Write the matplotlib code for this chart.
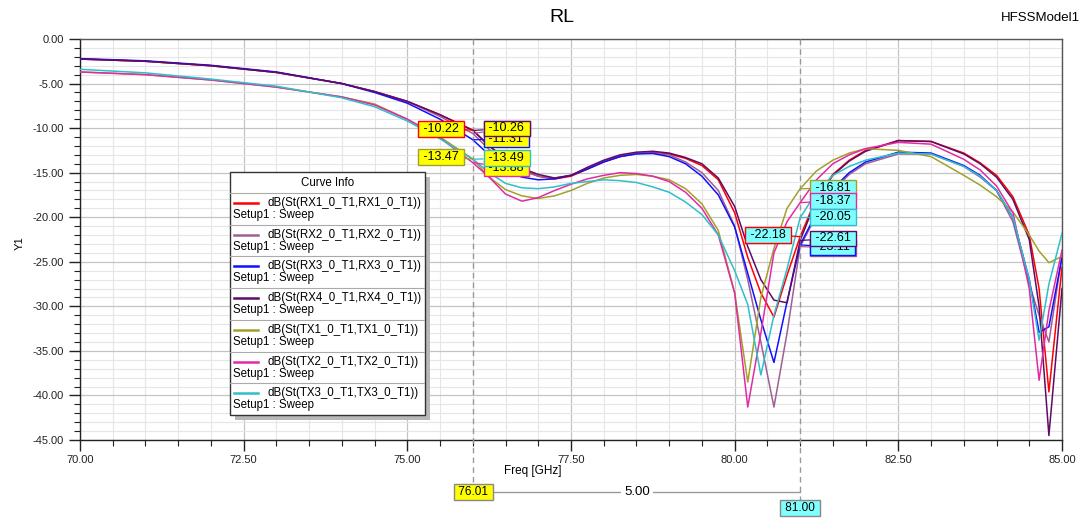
import matplotlib
matplotlib.use("Agg")
import matplotlib.pyplot as plt
import matplotlib.transforms as mtransforms
from matplotlib.ticker import MultipleLocator, FormatStrFormatter
from matplotlib.patches import Rectangle

plt.rcParams['font.family'] = ['Liberation Sans', 'DejaVu Sans']

# ---- data ----
freq = [70, 71, 72, 73, 74, 74.5, 75, 75.5, 76, 76.25, 76.5, 76.75, 77, 77.25, 77.5, 77.75,
        78, 78.25, 78.5, 78.75, 79, 79.25, 79.5, 79.75, 80, 80.2, 80.4, 80.6, 80.8, 81,
        81.25, 81.5, 81.75, 82, 82.5, 83, 83.5, 83.75, 84, 84.25, 84.5, 84.65, 84.8, 85]

rx1 = [-2.25, -2.5, -3.0, -3.75, -5.0, -5.9, -7.0, -8.5, -10.22, -12.0, -13.5, -14.6, -15.4, -15.7, -15.4, -14.6,
       -13.8, -13.2, -12.85, -12.75, -12.9, -13.4, -14.2, -15.8, -19.5, -24.5, -28.5, -31.2, -26.5, -22.18,
       -17.8, -15.2, -13.6, -12.5, -11.4, -11.5, -12.8, -13.9, -15.3, -17.7, -22.0, -28.0, -39.6, -25.6]
rx2 = [-2.25, -2.5, -3.0, -3.75, -5.0, -5.9, -7.0, -8.7, -10.6, -12.4, -13.8, -14.8, -15.4, -15.6, -15.3, -14.5,
       -13.7, -13.1, -12.8, -12.8, -13.0, -13.8, -15.0, -17.0, -21.0, -27.0, -34.0, -41.3, -33.0, -23.3,
       -19.8, -17.0, -15.2, -14.0, -12.9, -12.9, -14.3, -15.5, -17.0, -20.5, -27.5, -31.0, -34.0, -24.3]
rx3 = [-2.2, -2.45, -2.95, -3.7, -5.0, -6.0, -7.2, -9.0, -11.31, -13.0, -14.8, -15.5, -15.8, -15.7, -15.3, -14.6,
       -13.8, -13.2, -12.9, -12.85, -13.2, -14.0, -15.4, -17.5, -21.1, -26.3, -31.5, -36.3, -29.5, -23.11,
       -19.5, -16.8, -15.0, -13.8, -12.7, -12.8, -14.2, -15.3, -17.0, -20.0, -27.0, -32.9, -32.3, -24.5]
rx4 = [-2.25, -2.5, -3.0, -3.75, -5.0, -5.9, -7.0, -8.5, -10.26, -12.0, -13.4, -14.5, -15.2, -15.6, -15.3, -14.4,
       -13.6, -13.0, -12.7, -12.6, -12.8, -13.3, -14.0, -15.6, -18.8, -23.3, -27.0, -29.3, -29.6, -22.61,
       -18.0, -15.3, -13.7, -12.6, -11.4, -11.5, -12.9, -14.0, -15.5, -18.0, -22.5, -30.0, -44.5, -28.0]
tx1 = [-3.7, -4.0, -4.6, -5.4, -6.5, -7.3, -9.0, -11.0, -13.47, -15.5, -16.9, -17.6, -17.9, -17.6, -17.0, -16.2,
       -15.6, -15.3, -15.2, -15.4, -15.8, -16.8, -18.5, -21.5, -28.5, -38.5, -29.0, -23.5, -19.0, -16.81,
       -14.8, -13.6, -12.8, -12.3, -12.5, -13.2, -15.3, -16.4, -17.7, -19.4, -22.0, -23.8, -25.1, -24.4]
tx2 = [-3.7, -4.0, -4.6, -5.4, -6.5, -7.4, -9.0, -11.1, -13.88, -15.5, -17.4, -18.2, -17.8, -17.0, -16.3, -15.7,
       -15.3, -15.0, -15.1, -15.4, -16.0, -17.2, -19.0, -22.0, -28.5, -41.3, -33.0, -24.0, -20.5, -18.37,
       -15.8, -14.0, -13.0, -12.3, -11.6, -11.8, -13.5, -14.7, -16.5, -19.5, -28.0, -38.3, -30.5, -23.7]
tx3 = [-3.4, -3.8, -4.5, -5.3, -6.6, -7.6, -9.2, -11.2, -13.49, -15.0, -16.2, -16.7, -16.8, -16.6, -16.2, -16.0,
       -15.8, -15.9, -16.1, -16.6, -17.2, -18.3, -19.7, -22.0, -26.0, -29.8, -37.7, -31.0, -25.8, -20.05,
       -17.2, -15.3, -14.3, -13.6, -12.8, -12.9, -14.3, -15.4, -17.0, -20.0, -27.0, -33.8, -27.5, -21.8]

curves = [rx1, rx2, rx3, rx4, tx1, tx2, tx3]
names = ["dB(St(RX1_0_T1,RX1_0_T1))", "dB(St(RX2_0_T1,RX2_0_T1))", "dB(St(RX3_0_T1,RX3_0_T1))",
         "dB(St(RX4_0_T1,RX4_0_T1))", "dB(St(TX1_0_T1,TX1_0_T1))", "dB(St(TX2_0_T1,TX2_0_T1))",
         "dB(St(TX3_0_T1,TX3_0_T1))"]
colors = ['#ff0000', '#9e5f94', '#1010ff', '#5e0c66', '#a3a02a', '#e22aa5', '#2fbfca']

m1_freq = 76.01
m2_freq = 81.00
m1_vals = [-10.22, -10.60, -11.31, -10.26, -13.47, -13.88, -13.49]
m2_vals = [-22.18, -23.30, -23.11, -22.61, -16.81, -18.37, -20.05]
delta_label = "5.00"

# label placement for marker boxes: (dx px, dy px, side, zorder)
m1_place = [(-11, 1, 'right', 9), (12, 5, 'left', 6), (12, 1, 'left', 8), (12, 2, 'left', 9),
            (-11, 2, 'right', 9), (12, -5, 'left', 6), (12, 1, 'left', 8)]
m2_place = [(-11, 2, 'right', 9), (12, -1, 'left', 6), (12, -2, 'left', 7), (12, 2, 'left', 9),
            (12, 1, 'left', 9), (12, 2, 'left', 9), (12, 1, 'left', 9)]

fig = plt.figure(figsize=(10.87, 5.2), dpi=100)
ax = fig.add_axes([80 / 1087, 80 / 520, 982 / 1087, 401 / 520])

for vals, c in zip(curves, colors):
    ax.plot(freq, vals, color=c, lw=1.1, zorder=3)

ax.set_xlim(70, 85)
ax.set_ylim(-45, 0)
ax.xaxis.set_major_locator(MultipleLocator(2.5))
ax.xaxis.set_minor_locator(MultipleLocator(0.5))
ax.yaxis.set_major_locator(MultipleLocator(5))
ax.yaxis.set_minor_locator(MultipleLocator(1))
ax.xaxis.set_major_formatter(FormatStrFormatter('%.2f'))
ax.yaxis.set_major_formatter(FormatStrFormatter('%.2f'))
ax.grid(True, which='major', color='#c4c4c4', lw=0.9)
ax.grid(True, which='minor', color='#e6e6e6', lw=0.8)
ax.set_axisbelow(True)
for s in ax.spines.values():
    s.set_color('#555555')
    s.set_linewidth(1)
ax.spines['left'].set_color('#222222')
ax.spines['bottom'].set_color('#222222')
ax.tick_params(which='major', direction='out', length=8, width=1, labelsize=8, colors='#222222')
ax.tick_params(which='minor', direction='out', length=4, width=0.8, colors='#222222')
ax.tick_params(axis='x', pad=3)

# marker lines (dashed) extending below the axes
trans = mtransforms.blended_transform_factory(ax.transData, ax.transAxes)
ax.plot([m1_freq, m1_freq], [1, -0.113], transform=trans, color='#999999', ls=(0, (4, 3)), lw=1,
        clip_on=False, zorder=4)
ax.plot([m2_freq, m2_freq], [1, -0.15], transform=trans, color='#999999', ls=(0, (4, 3)), lw=1,
        clip_on=False, zorder=4)

def marker_boxes(fx, vals, place, face):
    for v, c, (dx, dy, side, z) in zip(vals, colors, place):
        ax.annotate(f" {v:.2f} ", xy=(fx, v), xytext=(dx, dy), textcoords='offset pixels',
                    ha=side, va='center', fontsize=9, zorder=z, annotation_clip=False,
                    bbox=dict(boxstyle='square,pad=0.15', fc=face, ec=c, lw=1),
                    arrowprops=dict(arrowstyle='-', color=c, lw=0.9, shrinkA=0, shrinkB=0))

marker_boxes(m1_freq, m1_vals, m1_place, '#ffff00')
marker_boxes(m2_freq, m2_vals, m2_place, '#80ffff')

# delta marker row under the x axis
ax.plot([m1_freq, m2_freq], [-0.13, -0.13], transform=trans, color='#999999', lw=1, clip_on=False)
ax.text(m1_freq, -0.13, f" {m1_freq:.2f} ", transform=trans, ha='center', va='center', fontsize=8.5,
        bbox=dict(boxstyle='square,pad=0.15', fc='#ffff00', ec='#888888', lw=1), zorder=6)
ax.text(m2_freq, -0.17, f" {m2_freq:.2f} ", transform=trans, ha='center', va='center', fontsize=8.5,
        bbox=dict(boxstyle='square,pad=0.15', fc='#80ffff', ec='#888888', lw=1), zorder=6)
ax.text((m1_freq + m2_freq) / 2, -0.13, delta_label, transform=trans, ha='center', va='center',
        fontsize=9.5, bbox=dict(boxstyle='square,pad=0.25', fc='white', ec='none'), zorder=6)

# titles and axis labels
fig.text(562 / 1087, 1 - 18 / 520, 'RL', fontsize=14, ha='center', va='center')
fig.text(1040 / 1087, 1 - 18 / 520, 'HFSSModel1', fontsize=9.5, ha='center', va='center')
fig.text(20 / 1087, 1 - 243 / 520, 'Y1', fontsize=8, rotation=90, ha='center', va='center')
fig.text(533 / 1087, 1 - 471 / 520, 'Freq [GHz]', fontsize=8.5, ha='center', va='center')

# curve info box
lax = fig.add_axes([230 / 1087, 1 - 415 / 520, 195 / 1087, 243 / 520])
lax.set_zorder(10)
lax.set_xlim(0, 1)
lax.set_ylim(0, 1)
lax.axis('off')
lax.add_patch(Rectangle((5 / 195, -5 / 243), 1, 1, fc='#b8b8b8', ec='none', clip_on=False, zorder=0))
lax.add_patch(Rectangle((0, 0), 1, 1, fc='white', ec='#333333', lw=1, clip_on=False, zorder=1))
head = 21 / 243
row = (1 - head) / len(names)
lax.text(0.5, 1 - head / 2, 'Curve Info', ha='center', va='center', fontsize=8.3, zorder=3)
for i, (nm, c) in enumerate(zip(names, colors)):
    top = 1 - head - i * row
    lax.plot([0, 1], [top, top], color='#aaaaaa', lw=0.8, zorder=2)
    yl = top - 10 / 243
    lax.plot([4 / 195, 28 / 195], [yl, yl], color=c, lw=1.8, zorder=3)
    lax.text(37 / 195, yl, nm, ha='left', va='center', fontsize=8.3, zorder=3)
    lax.text(3 / 195, top - 22 / 243, 'Setup1 : Sweep', ha='left', va='center', fontsize=8.3, zorder=3)

fig.savefig('out.png', dpi=100)
